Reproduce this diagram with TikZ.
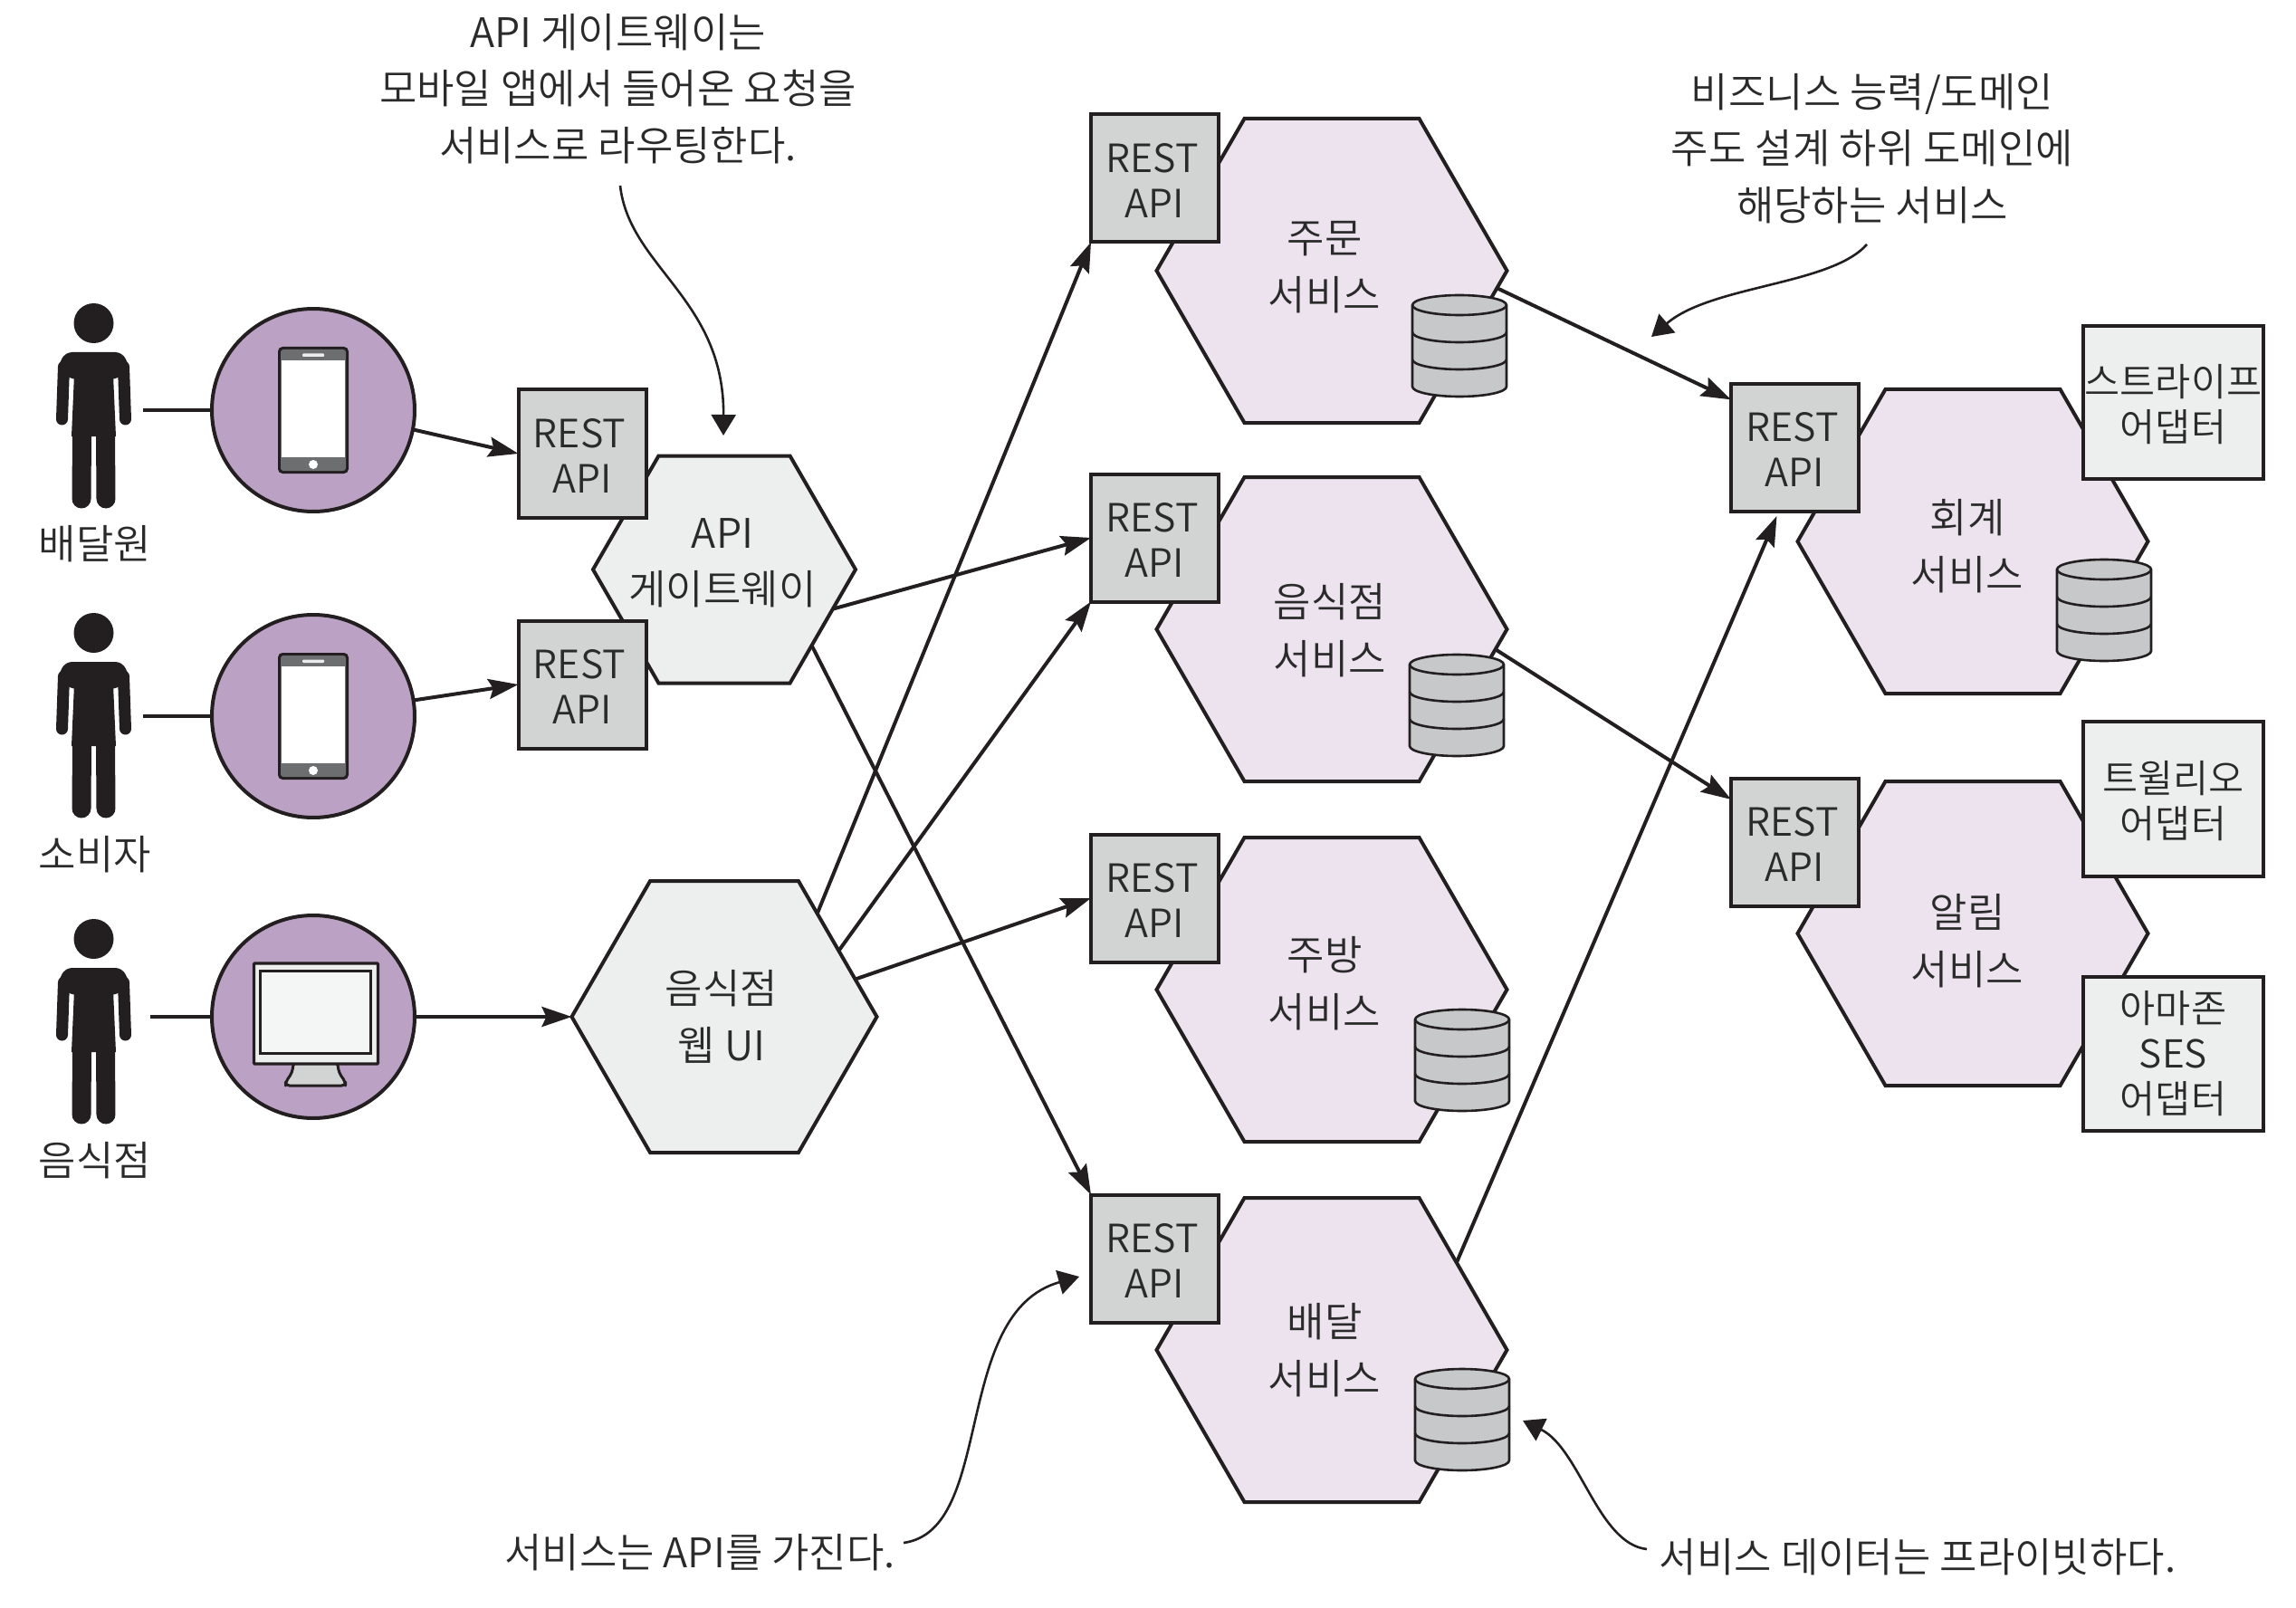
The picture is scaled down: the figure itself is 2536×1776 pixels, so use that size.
\documentclass[tikz,border=0pt]{standalone}
\usepackage{fontspec}
\setmainfont{Noto Sans CJK KR}[UprightFont={* DemiLight}]
\usetikzlibrary{shapes.symbols,arrows.meta}
\definecolor{ink}{HTML}{231F20}
\definecolor{txt}{HTML}{2A2A2A}
\definecolor{svcfill}{HTML}{ECE3EE}
\definecolor{gwfill}{HTML}{EDEEEE}
\definecolor{boxfill}{HTML}{D2D4D3}
\definecolor{circfill}{HTML}{BBA2C4}
\definecolor{dbfill}{HTML}{C6C8CA}
\definecolor{phonebar}{HTML}{6D6E70}
\definecolor{screenfill}{HTML}{F4F6F5}
\newcommand\rapi{\rule{0pt}{36.5pt}REST\hspace*{6pt}\\API}
\tikzset{
  hexa/.style={shape=signal,signal to=east and west,signal pointer angle=120,draw=ink,line width=4pt,inner sep=0pt,outer sep=0pt,line join=miter},
  svc/.style={hexa,fill=svcfill,minimum width=387pt,minimum height=336pt},
  rest/.style={draw=ink,line width=4pt,fill=boxfill,minimum width=141pt,minimum height=141pt,inner sep=0pt,outer sep=0pt,align=center,text=txt,font=\fontsize{43}{50}\selectfont},
  adapter/.style={draw=ink,line width=4pt,fill=gwfill,minimum width=199pt,inner sep=0pt,outer sep=0pt,align=center,text=txt,font=\fontsize{42.5}{50}\selectfont},
  lbl/.style={align=center,text=txt,inner sep=0pt,font=\fontsize{45}{62.5}\selectfont},
  device/.style={circle,draw=ink,line width=4pt,fill=circfill,minimum size=224pt,inner sep=0pt,outer sep=0pt},
  conn/.style={draw=ink,line width=4pt},
  arr/.style={conn,-{Stealth[length=33pt,width=22pt,inset=5pt]}},
  note/.style={draw=ink,line width=2.6pt,-{Triangle[length=23pt,width=27pt]}},
  personpic/.pic={
    \fill[ink] (0,0) circle (22);
    \fill[ink,rounded corners=8pt] (-40,50) -- (-32,32) -- (32,32) -- (40,50) -- (26,62) -- (-26,62) -- cycle;
    \fill[ink] (-21,45) -- (21,45) -- (24.5,125) -- (-24.5,125) -- cycle;
    \draw[ink,line width=13pt,line cap=round] (-33,48) -- (-35,106);
    \draw[ink,line width=13pt,line cap=round] (33,48) -- (35,106);
    \draw[ink,line width=21pt,line cap=round] (-13,121) -- (-13.5,194);
    \draw[ink,line width=21pt,line cap=round] (13,121) -- (13.5,194);
  },
  phonepic/.pic={
    \fill[ink,rounded corners=5pt] (-39,-70) rectangle (39,70);
    \fill[phonebar,rounded corners=3pt] (-36,-67) rectangle (36,67);
    \fill[white] (-35,-55) rectangle (35,52);
    \fill[white!85!gray,rounded corners=1pt] (-12,-62.5) rectangle (12,-59);
    \fill[white] (0,60) circle (5);
  },
  monitorpic/.pic={
    \draw[ink,line width=3pt,line join=round,fill=boxfill,rounded corners=4pt] (-24,50) -- (-26,62) -- (-33,72) -- (-33,76) -- (33,76) -- (33,72) -- (26,62) -- (24,50) -- cycle;
    \draw[ink,line width=3.2pt,fill=gwfill,rounded corners=1pt] (-68,-59) rectangle (69,52);
    \draw[ink,line width=3pt,fill=screenfill] (-61,-51) rectangle (61,40);
  },
  dbpic/.pic={
    \draw[ink,line width=2.6pt,fill=dbfill] (-52,-45) -- (-52,45) arc[start angle=180,end angle=0,x radius=52,y radius=11] -- (52,-45) arc[start angle=0,end angle=-180,x radius=52,y radius=11] -- cycle;
    \draw[ink,line width=2.6pt] (-52,-45) arc[start angle=180,end angle=0,x radius=52,y radius=11];
    \draw[ink,line width=2.6pt] (-52,-15) arc[start angle=180,end angle=0,x radius=52,y radius=11];
    \draw[ink,line width=2.6pt] (-52,15) arc[start angle=180,end angle=0,x radius=52,y radius=11];
  }
}
\begin{document}
\begin{tikzpicture}[x=1pt,y=-1pt]
\useasboundingbox (0,0) rectangle (2536,1776);
% actors
\pic at (103.5,357) {personpic};
\pic at (103.5,699) {personpic};
\pic at (103.5,1037) {personpic};
\node[lbl] (courier) at (105,601) {배달원};
\node[lbl] (consumer) at (105,944) {소비자};
\node[lbl] (owner) at (105,1282) {음식점};
\coordinate (p1) at (158,453);
\coordinate (p2) at (158,791);
\coordinate (p3) at (166,1123);
\node[device] (c1) at (346,453) {};
\node[device] (c2) at (346,791) {};
\node[device] (c3) at (346,1123) {};
\pic at (c1) {phonepic};
\pic at (c2) {phonepic};
\pic at (348.5,1123) {monitorpic};
\draw[conn] (p1) -- (c1.west);
\draw[conn] (p2) -- (c2.west);
\draw[conn] (p3) -- (c3.west);
% gateway and web ui
\node[hexa,fill=gwfill,minimum width=290pt,minimum height=251pt] (gw) at (800,629) {};
\node[hexa,fill=gwfill,minimum width=337pt,minimum height=300pt] (ui) at (800,1123) {};
\node[lbl] (gwt) at (798,622) {API\\게이트웨이};
\node[lbl] (uit) at (797,1123) {음식점\\웹 UI};
\node[rest] (g1) at (643,501) {\rapi};
\node[rest] (g2) at (643,756) {\rapi};
% services
\node[svc] (os) at (1471,299) {};
\node[svc] (rs) at (1471,695) {};
\node[svc] (ks) at (1471,1093) {};
\node[svc] (ds) at (1471,1491) {};
\node[svc] (as) at (2179,598) {};
\node[svc] (ns) at (2179,1031) {};
\node[rest] (ob) at (1275.5,197) {\rapi};
\node[rest] (rb) at (1275.5,594) {\rapi};
\node[rest] (kb) at (1275.5,992) {\rapi};
\node[rest] (db) at (1275.5,1390) {\rapi};
\node[rest] (ab) at (1982.5,494.5) {\rapi};
\node[rest] (nb) at (1982.5,930.5) {\rapi};
\node[lbl] (ot) at (1463,295) {주문\\서비스};
\node[lbl] (rt) at (1469,696) {음식점\\서비스};
\node[lbl] (kt) at (1463,1086) {주방\\서비스};
\node[lbl] (dt) at (1463,1491) {배달\\서비스};
\node[lbl] (at) at (2173,603) {회계\\서비스};
\node[lbl] (nt) at (2173,1039) {알림\\서비스};
\pic at (1612,382) {dbpic};
\pic at (1609,779) {dbpic};
\pic at (1615,1171) {dbpic};
\pic at (1615,1568) {dbpic};
\pic at (2324,674) {dbpic};
\node[adapter,minimum height=169pt] (stripe) at (2400.5,444.5) {\rule{0pt}{40pt}스트라이프\\어댑터};
\node[adapter,minimum height=171pt] (twilio) at (2400.5,882.5) {\rule{0pt}{40pt}트윌리오\\어댑터};
\node[adapter,minimum height=170pt] (ses) at (2400.5,1164) {아마존\\SES\\어댑터\rule[-5pt]{0pt}{5pt}};
% connectors
\draw[arr] (c1.-11) -- (g1.west);
\draw[arr] (c2.9) -- (g2.west);
\draw[arr] (c3.east) -- (ui.west);
\draw[arr] (gw.-20) -- (rb.west);
\draw[arr] (gw.-41.6) -- (db.north west);
\draw[arr] (ui.48.8) -- (ob.south west);
\draw[arr] (ui.30) -- (rb.south west);
\draw[arr] (ui.16.4) -- (kb.west);
\draw[arr] (os.-6.1) -- (ab.143.5);
\draw[arr] (rs.-7.6) -- (nb.146.5);
\draw[arr] (ds.35) -- ([xshift=-20pt,yshift=-5pt]ab.south);
% notes
\node[lbl] (n1) at (682.5,98) {API 게이트웨이는\\모바일 앱에서 들어온 요청을\\서비스로 라우팅한다.};
\node[lbl] (n2) at (2068,164) {비즈니스 능력/도메인\\주도 설계 하위 도메인에\\해당하는 서비스};
\node[lbl] (n3) at (773,1715) {서비스는 API를 가진다.};
\node[lbl] (n4) at (2118,1720) {서비스 데이터는 프라이빗하다.};
\coordinate (n1s) at (685,205);
\coordinate (n1e) at (799,481);
\coordinate (n2s) at (2062,270);
\coordinate (n2e) at (1824,372);
\coordinate (n3s) at (998,1704);
\coordinate (n3e) at (1192,1410);
\coordinate (n4s) at (1819,1711);
\coordinate (n4e) at (1682,1569);
\draw[note] (n1s) .. controls (695,295) and (800,330) .. (n1e);
\draw[note] (n2s) .. controls (2022,315) and (1890,315) .. (n2e);
\draw[note] (n3s) .. controls (1100,1690) and (1050,1450) .. (n3e);
\draw[note] (n4s) .. controls (1765,1705) and (1745,1600) .. (n4e);
\end{tikzpicture}
\end{document}
